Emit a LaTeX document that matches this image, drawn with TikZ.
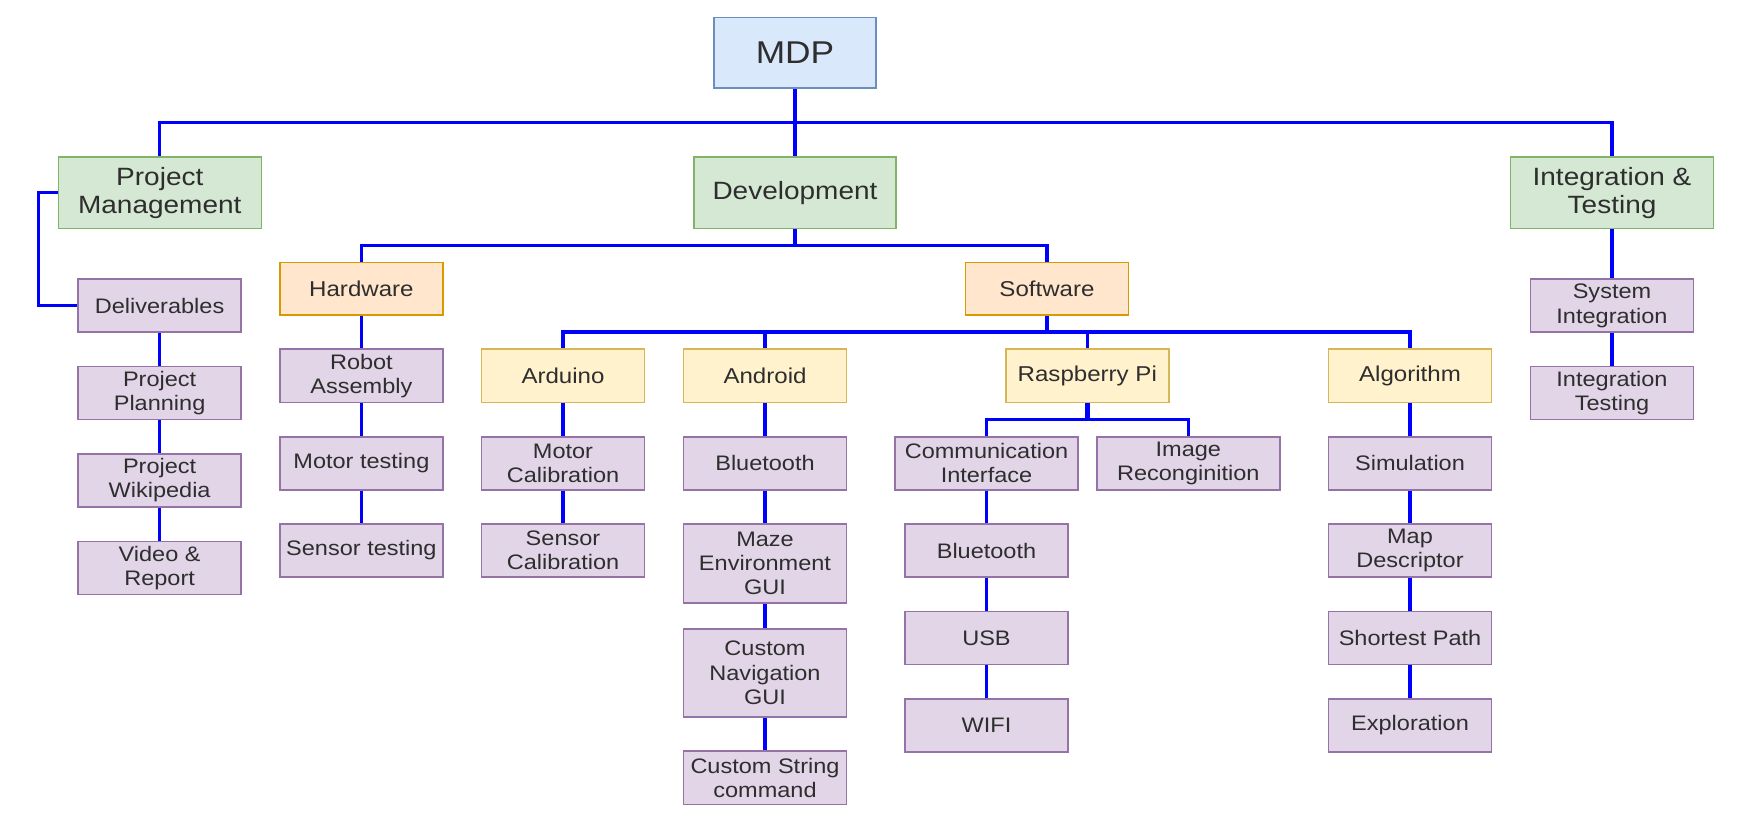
\documentclass[tikz,border=0pt]{standalone}
\usepackage{fontspec}
\setmainfont{Liberation Sans}[FakeStretch=1.12]
\definecolor{mdpF}{HTML}{DAE8FC}\definecolor{mdpD}{HTML}{6C8EBF}
\definecolor{grnF}{HTML}{D5E8D4}\definecolor{grnD}{HTML}{82B366}
\definecolor{orgF}{HTML}{FFE6CC}\definecolor{orgD}{HTML}{D79B00}
\definecolor{yelF}{HTML}{FFF2CC}\definecolor{yelD}{HTML}{D6B656}
\definecolor{purF}{HTML}{E1D5E7}\definecolor{purD}{HTML}{9673A6}
\definecolor{wirec}{HTML}{0000FF}
\definecolor{txt}{HTML}{2E2E2E}
\begin{document}
\begin{tikzpicture}[x=1pt,y=-1pt,
  box/.style={draw, line width=1.6pt, inner sep=0pt, align=center, text=txt},
  mdpbox/.style={box, fill=mdpF, draw=mdpD, minimum width=162pt, minimum height=70.7pt, font=\fontsize{31.5}{36}\selectfont},
  lvlone/.style={box, fill=grnF, draw=grnD, minimum width=203pt, minimum height=71.3pt, font=\fontsize{25}{28}\selectfont},
  lvltwo/.style={box, fill=orgF, draw=orgD, minimum width=163pt, minimum height=52.7pt, font=\fontsize{21.5}{24.5}\selectfont},
  lvlthree/.style={box, fill=yelF, draw=yelD, minimum width=163pt, minimum height=53pt, font=\fontsize{21.5}{24.5}\selectfont},
  leaf/.style={box, fill=purF, draw=purD, minimum width=163pt, minimum height=53pt, font=\fontsize{21}{24.3}\selectfont},
  wire/.style={draw=wirec, line width=3.3pt},
  stub/.style={draw=wirec, line width=4.6pt}
]
\fill[white] (0,0) rectangle (1738,834);
\useasboundingbox (0,0) rectangle (1738,834);

% level 0 and 1
\node[mdpbox] (mdp) at (795,52.7) {MDP};
\node[lvlone] (pm) at (159.8,192.7) {Project\\Management};
\node[lvlone, minimum width=202pt] (dev) at (795,192.7) {Development};
\node[lvlone] (it) at (1612,192.7) {Integration \&\\Testing};

% level 2
\node[lvltwo] (hw) at (361.4,288.7) {Hardware};
\node[lvltwo] (sw) at (1047,288.7) {Software};

% level 3
\node[lvlthree] (ard) at (563,375.8) {Arduino};
\node[lvlthree] (and) at (765,375.8) {Android};
\node[lvlthree] (rpi) at (1087.3,375.8) {Raspberry Pi};
\node[lvlthree] (alg) at (1410,375.8) {Algorithm};

% project management column
\node[leaf] (del) at (159.6,305.7) {Deliverables};
\node[leaf] (ppl) at (159.6,393) {Project\\Planning};
\node[leaf] (pwk) at (159.6,480.3) {Project\\Wikipedia};
\node[leaf] (vid) at (159.6,568) {Video \&\\Report};

% hardware column
\node[leaf] (rob) at (361.4,375.8) {Robot\\Assembly};
\node[leaf] (mot) at (361.4,463.3) {Motor testing};
\node[leaf] (sen) at (361.4,550.5) {Sensor testing};

% arduino column
\node[leaf] (mcal) at (563,463.3) {Motor\\Calibration};
\node[leaf] (scal) at (563,550.5) {Sensor\\Calibration};

% android column
\node[leaf] (abt) at (765,463.3) {Bluetooth};
\node[leaf, minimum height=79pt] (maze) at (765,563.5) {Maze\\Environment\\GUI};
\node[leaf, minimum height=88pt] (nav) at (765,673) {Custom\\Navigation\\GUI};
\node[leaf, minimum height=53.3pt] (cstr) at (765,777.7) {Custom String\\command};

% raspberry pi column
\node[leaf, minimum width=183pt] (ci) at (986.5,463.3) {Communication\\Interface};
\node[leaf, minimum width=183pt] (ir) at (1188.3,463.3) {Image\\Reconginition};
\node[leaf] (rbt) at (986.5,550.5) {Bluetooth};
\node[leaf] (usb) at (986.5,638) {USB};
\node[leaf] (wifi) at (986.5,725.4) {WIFI};

% algorithm column
\node[leaf] (sim) at (1410,463.3) {Simulation};
\node[leaf] (map) at (1410,550.5) {Map\\Descriptor};
\node[leaf] (sp) at (1410,638) {Shortest Path};
\node[leaf] (exp) at (1410,725.4) {Exploration};

% integration column
\node[leaf] (sint) at (1612,305.7) {System\\Integration};
\node[leaf] (itest) at (1612,393) {Integration\\Testing};

% bus coordinates
\coordinate (b1) at (795,122.7);
\coordinate (b2) at (795,245.3);
\coordinate (b3) at (1047,332);
\coordinate (b4) at (1087.3,419.3);
\coordinate (pml) at (38.7,250);

% connectors
\draw[wire] (mdp.south) -- (dev.north);
\draw[wire] (pm.north) |- (b1) -| (it.north);
\draw[wire] (dev.south) -- (b2);
\draw[wire] (hw.north) |- (b2) -| (sw.north);
\draw[stub] (sw.south) -- (b3);
\draw[wire] (ard.north) |- (b3) -| (alg.north);
\draw[wire] (and.north) -- (and.north |- b3);
\draw[wire] (rpi.north) -- (rpi.north |- b3);
\draw[stub] (rpi.south) -- (b4);
\draw[wire] (ci.north) |- (b4) -| (ir.north);
\draw[wire] (pm.west) -| (pml) |- (del.west);

\draw[wire] (del.south) -- (ppl.north);
\draw[wire] (ppl.south) -- (pwk.north);
\draw[wire] (pwk.south) -- (vid.north);

\draw[wire] (hw.south) -- (rob.north);
\draw[wire] (rob.south) -- (mot.north);
\draw[wire] (mot.south) -- (sen.north);

\draw[wire] (ard.south) -- (mcal.north);
\draw[wire] (mcal.south) -- (scal.north);

\draw[wire] (and.south) -- (abt.north);
\draw[wire] (abt.south) -- (maze.north);
\draw[wire] (maze.south) -- (nav.north);
\draw[wire] (nav.south) -- (cstr.north);

\draw[wire] (ci.south) -- (rbt.north);
\draw[wire] (rbt.south) -- (usb.north);
\draw[wire] (usb.south) -- (wifi.north);

\draw[wire] (alg.south) -- (sim.north);
\draw[wire] (sim.south) -- (map.north);
\draw[wire] (map.south) -- (sp.north);
\draw[wire] (sp.south) -- (exp.north);

\draw[wire] (it.south) -- (sint.north);
\draw[wire] (sint.south) -- (itest.north);
\end{tikzpicture}
\end{document}
